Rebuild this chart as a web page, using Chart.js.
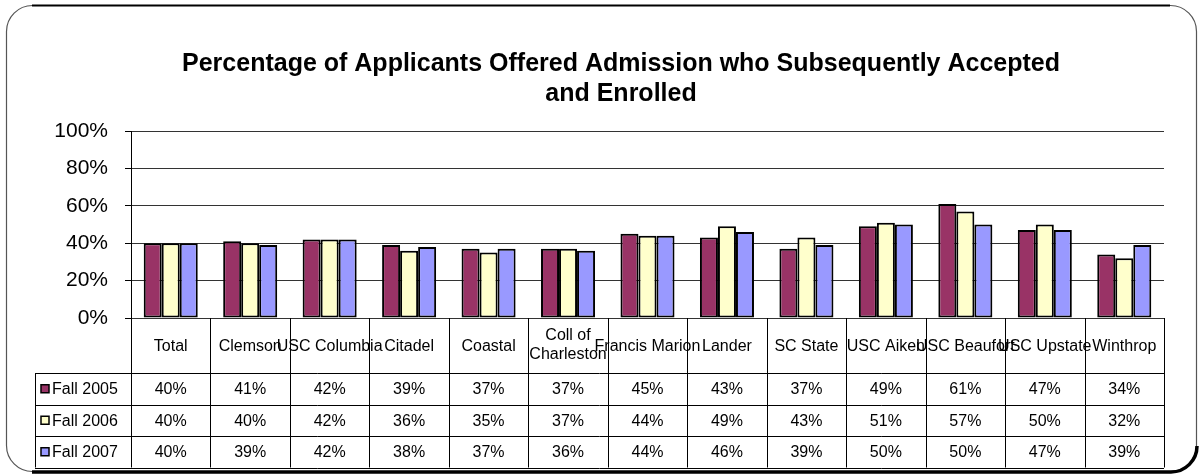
<!DOCTYPE html>
<html>
<head>
<meta charset="utf-8">
<script src="https://cdn.jsdelivr.net/npm/chart.js"></script>
<style>
  html, body { margin: 0; padding: 0; background: #fff; }
  canvas { display: block; }
</style>
</head>
<body>
<canvas id="chart" width="1199" height="476"></canvas>
<script>
var categories = ['Total', 'Clemson', 'USC Columbia', 'Citadel', 'Coastal', ['Coll of', 'Charleston'],
  'Francis Marion', 'Lander', 'SC State', 'USC Aiken', 'USC Beaufort', 'USC Upstate', 'Winthrop'];
var seriesNames = ['Fall 2005', 'Fall 2006', 'Fall 2007'];
var fall2005 = [40, 41, 42, 39, 37, 37, 45, 43, 37, 49, 61, 47, 34];
var fall2006 = [40, 40, 42, 36, 35, 37, 44, 49, 43, 51, 57, 50, 32];
var fall2007 = [40, 39, 42, 38, 37, 36, 44, 46, 39, 50, 50, 47, 39];
var yTicks = [0, 20, 40, 60, 80, 100];
var titleLines = ['Percentage of Applicants Offered Admission who Subsequently Accepted', 'and Enrolled'];

var colors = ['#993366', '#FFFFCC', '#9999FF'];
var allSeries = [fall2005, fall2006, fall2007];
var fontFamily = '"Liberation Sans", Arial, sans-serif';

// rounded frame around the whole chart + title, drawn first
var frame = {
  id: 'frame',
  beforeDraw: function (chart) {
    var ctx = chart.ctx;
    ctx.save();
    ctx.fillStyle = '#fff';
    ctx.fillRect(0, 0, chart.width, chart.height);
    ctx.beginPath();
    ctx.roundRect(6.5, 5.5, 1190, 466, 26);
    ctx.strokeStyle = '#555';
    ctx.lineWidth = 1.2;
    ctx.stroke();
    ctx.strokeStyle = '#000';
    ctx.lineWidth = 2;
    ctx.beginPath();
    ctx.moveTo(32, 5.5);
    ctx.lineTo(1170, 5.5);
    ctx.stroke();
    ctx.lineWidth = 3.5;
    ctx.beginPath();
    ctx.moveTo(32, 472);
    ctx.lineTo(1170, 472);
    ctx.arcTo(1197, 472, 1197, 445, 26);
    ctx.stroke();

    // title
    ctx.fillStyle = '#000';
    ctx.font = 'bold 25px ' + fontFamily;
    ctx.textAlign = 'center';
    ctx.textBaseline = 'middle';
    for (var i = 0; i < titleLines.length; i++) {
      ctx.fillText(titleLines[i], 621, 64 + i * 30);
    }
    ctx.restore();
  }
};

// data table under the plot, columns taken from the x scale
var dataTable = {
  id: 'dataTable',
  afterDraw: function (chart) {
    var ctx = chart.ctx;
    var xs = chart.scales.x;
    var area = chart.chartArea;
    var n = categories.length;
    var cw = (area.right - area.left) / n;
    var top = area.bottom, headH = 55, rowH = 31.5;
    var left = 35;
    var bottom = top + headH + 3 * rowH;

    function line(x1, y1, x2, y2) {
      ctx.beginPath();
      ctx.moveTo(x1, y1);
      ctx.lineTo(x2, y2);
      ctx.stroke();
    }

    ctx.save();
    ctx.strokeStyle = '#000';
    ctx.lineWidth = 1;
    for (var r = 0; r <= 3; r++) {
      var y = Math.round(top + headH + r * rowH) + 0.5;
      line(left, y, area.right, y);
    }
    for (var i = 0; i <= n; i++) {
      var xx = Math.round(xs.getPixelForValue(i) - cw / 2) + 0.5;
      line(xx, top, xx, bottom);
    }
    line(left + 0.5, top + headH, left + 0.5, bottom);

    ctx.fillStyle = '#000';
    ctx.font = '16px ' + fontFamily;
    ctx.textAlign = 'center';
    ctx.textBaseline = 'middle';
    for (var c = 0; c < n; c++) {
      var cx = xs.getPixelForValue(c);
      var lab = categories[c];
      if (Array.isArray(lab)) {
        for (var k = 0; k < lab.length; k++) {
          ctx.fillText(lab[k], cx, top + headH / 2 + (k - (lab.length - 1) / 2) * 19);
        }
      } else {
        ctx.fillText(lab, cx, top + headH / 2 + 1);
      }
      for (var s = 0; s < allSeries.length; s++) {
        ctx.fillText(allSeries[s][c] + '%', cx, top + headH + s * rowH + rowH / 2 + 1);
      }
    }

    ctx.textAlign = 'left';
    for (var s2 = 0; s2 < seriesNames.length; s2++) {
      var ry = top + headH + s2 * rowH + rowH / 2;
      ctx.fillStyle = colors[s2];
      ctx.fillRect(41, ry - 4, 8, 8);
      ctx.lineWidth = 1.5;
      ctx.strokeRect(41, ry - 4, 8, 8);
      ctx.fillStyle = '#000';
      ctx.fillText(seriesNames[s2], 52, ry + 1);
    }
    ctx.restore();
  }
};

var datasets = [];
for (var i = 0; i < seriesNames.length; i++) {
  datasets.push({
    label: seriesNames[i],
    data: allSeries[i],
    backgroundColor: colors[i],
    borderColor: '#000',
    borderWidth: 2,
    borderSkipped: false,
    categoryPercentage: 0.68,
    barPercentage: 1.0
  });
}

new Chart(document.getElementById('chart'), {
  type: 'bar',
  data: { labels: categories, datasets: datasets },
  plugins: [frame, dataTable],
  options: {
    responsive: false,
    animation: false,
    layout: { padding: { top: 131, left: 0, right: 35, bottom: 158 } },
    plugins: {
      legend: { display: false },
      tooltip: { enabled: false },
      title: { display: false }
    },
    scales: {
      x: { display: false },
      y: {
        min: 0,
        max: 100,
        afterFit: function (s) { s.width = 131; },
        afterBuildTicks: function (s) { s.ticks = yTicks.map(function (v) { return { value: v }; }); },
        ticks: {
          color: '#000',
          padding: 17,
          font: { family: fontFamily, size: 21 },
          callback: function (v) { return v + '%'; }
        },
        grid: { color: '#333', lineWidth: 1, tickLength: 6, tickColor: '#000' },
        border: { display: true, color: '#000', width: 1 }
      }
    }
  }
});
</script>
</body>
</html>
